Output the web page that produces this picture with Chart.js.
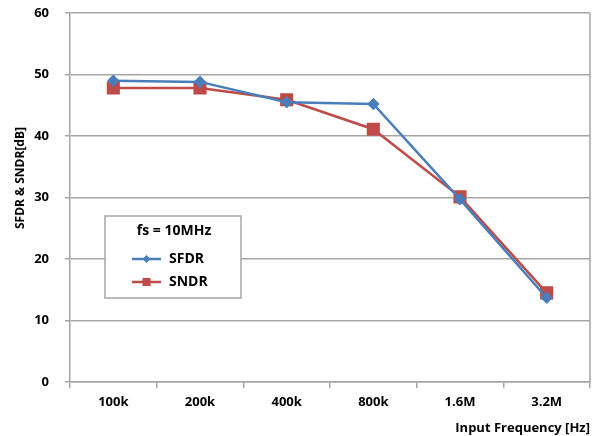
<!DOCTYPE html>
<html>
<head>
<meta charset="utf-8">
<script src="https://cdn.jsdelivr.net/npm/chart.js@4"></script>
<style>
  html, body { margin: 0; padding: 0; background: #fff; }
  #wrap { width: 600px; height: 436px; }
</style>
</head>
<body>
<div id="wrap"><canvas id="grafico" width="600" height="436"></canvas></div>
<script>
// dados
const frequencias = ['100k', '200k', '400k', '800k', '1.6M', '3.2M'];
const sfdr = [49.0, 48.8, 45.5, 45.2, 29.7, 13.7];
const sndr = [47.8, 47.8, 45.9, 41.1, 30.1, 14.5];
const ticksY = [0, 10, 20, 30, 40, 50, 60];
const legendaTitulo = 'fs = 10MHz';
const tituloY = 'SFDR & SNDR[dB]';
const tituloX = 'Input Frequency [Hz]';

const AZUL = '#4a7ebb';
const VERMELHO = '#be4b48';
const CINZA = '#a6a6a6';
const FONTE = "'Open Sans', 'Noto Sans', sans-serif";

// borda direita, titulo do eixo Y e legenda dentro da area
const extras = {
  id: 'extras',
  beforeDatasetsDraw(chart) {
    const { ctx, chartArea } = chart;
    ctx.save();
    ctx.strokeStyle = CINZA;
    ctx.lineWidth = 1.5;
    ctx.beginPath();
    ctx.moveTo(chartArea.right, chartArea.top);
    ctx.lineTo(chartArea.right, chartArea.bottom);
    ctx.stroke();
    ctx.restore();
  },
  afterDraw(chart) {
    const ctx = chart.ctx;
    ctx.save();

    // titulo eixo Y
    ctx.translate(21, 178);
    ctx.rotate(-Math.PI / 2);
    ctx.fillStyle = '#000';
    ctx.font = `bold 12px ${FONTE}`;
    ctx.textAlign = 'center';
    ctx.textBaseline = 'middle';
    ctx.fillText(tituloY, 0, 0);
    ctx.setTransform(1, 0, 0, 1, 0, 0);

    // caixa da legenda
    const x0 = 105, y0 = 216, w = 136, h = 82;
    ctx.fillStyle = '#fff';
    ctx.fillRect(x0, y0, w, h);
    ctx.strokeStyle = CINZA;
    ctx.lineWidth = 1.5;
    ctx.strokeRect(x0, y0, w, h);

    ctx.fillStyle = '#000';
    ctx.font = `bold 14px ${FONTE}`;
    ctx.textAlign = 'center';
    ctx.textBaseline = 'middle';
    ctx.fillText(legendaTitulo, 174, 231);

    const itens = [
      { nome: 'SFDR', cor: AZUL, y: 259, forma: 'losango' },
      { nome: 'SNDR', cor: VERMELHO, y: 282, forma: 'quadrado' }
    ];
    itens.forEach(item => {
      ctx.strokeStyle = item.cor;
      ctx.lineWidth = 2.5;
      ctx.beginPath();
      ctx.moveTo(132, item.y);
      ctx.lineTo(161, item.y);
      ctx.stroke();
      ctx.fillStyle = item.cor;
      ctx.beginPath();
      if (item.forma === 'losango') {
        ctx.moveTo(146.5, item.y - 4);
        ctx.lineTo(150.5, item.y);
        ctx.lineTo(146.5, item.y + 4);
        ctx.lineTo(142.5, item.y);
        ctx.closePath();
      } else {
        ctx.rect(142.5, item.y - 4, 8, 8);
      }
      ctx.fill();
      ctx.fillStyle = '#000';
      ctx.textAlign = 'left';
      ctx.fillText(item.nome, 169, item.y);
    });

    ctx.restore();
  }
};

new Chart(document.getElementById('grafico'), {
  type: 'line',
  data: {
    labels: frequencias,
    datasets: [
      {
        label: 'SFDR',
        data: sfdr,
        borderColor: AZUL,
        backgroundColor: AZUL,
        borderWidth: 2.5,
        pointStyle: 'rectRot',
        pointRadius: 4.5,
        pointHoverRadius: 4.5,
        tension: 0
      },
      {
        label: 'SNDR',
        data: sndr,
        borderColor: VERMELHO,
        backgroundColor: VERMELHO,
        borderWidth: 2.5,
        pointStyle: 'rect',
        pointRadius: 7.5,
        pointHoverRadius: 7.5,
        tension: 0
      }
    ]
  },
  options: {
    responsive: false,
    animation: false,
    layout: { padding: { top: 13, right: 8, left: 0, bottom: 0 } },
    plugins: {
      legend: { display: false },
      tooltip: { enabled: false }
    },
    scales: {
      x: {
        offset: true,
        grid: {
          offset: true,
          drawOnChartArea: false,
          tickLength: 6,
          tickColor: CINZA,
          lineWidth: 1.5
        },
        border: { color: CINZA, width: 1.5 },
        ticks: {
          color: '#000',
          padding: 6,
          maxRotation: 0,
          font: { family: FONTE, size: 13, weight: 'bold' }
        },
        title: {
          display: true,
          text: tituloX,
          align: 'end',
          color: '#000',
          padding: { top: 0, bottom: 0 },
          font: { family: FONTE, size: 13, weight: 'bold' }
        },
        afterFit(scale) { scale.height = 54; }
      },
      y: {
        min: ticksY[0],
        max: ticksY[ticksY.length - 1],
        afterBuildTicks(scale) { scale.ticks = ticksY.map(v => ({ value: v })); },
        grid: {
          color: CINZA,
          lineWidth: 1.5,
          tickLength: 5,
          tickColor: CINZA
        },
        border: { color: CINZA, width: 1.5 },
        ticks: {
          color: '#000',
          padding: 16,
          font: { family: FONTE, size: 13, weight: 'bold' }
        },
        afterFit(scale) {
          scale.width = 70;
          scale.paddingTop = 0;
          scale.paddingBottom = 0;
        }
      }
    }
  },
  plugins: [extras]
});
</script>
</body>
</html>
